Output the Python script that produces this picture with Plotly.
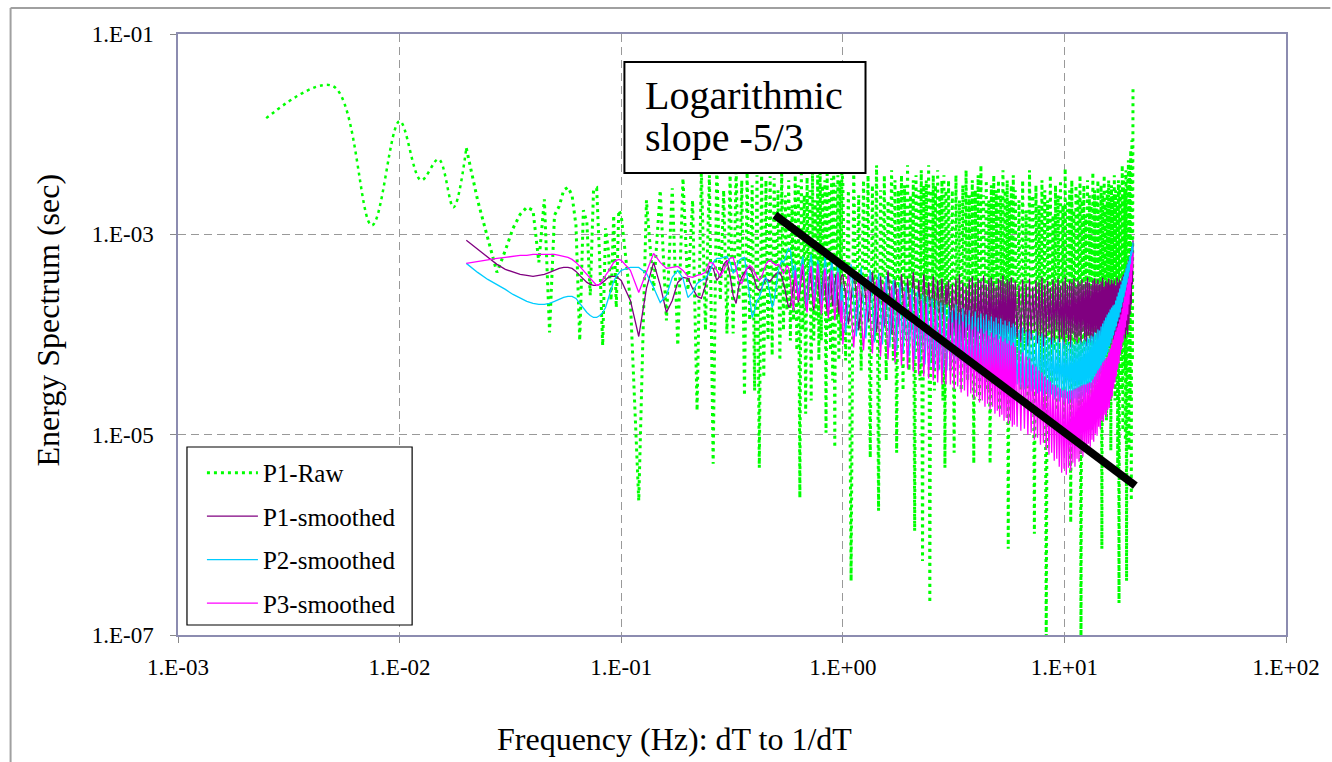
import plotly.graph_objects as go

# ---------------- data ----------------
# energies are stored as log10(E [sec]); frequencies in Hz
raw_low_freq_hz = [0.0025, 0.005, 0.0075, 0.01, 0.0125, 0.015, 0.0175]
raw_low_log10 = [-1.84, -1.52, -2.91, -1.87, -2.46, -2.25, -2.73]

freq_hz = [
    # 0.02 - 0.0975
    0.02, 0.0225, 0.025, 0.0275, 0.03, 0.0325, 0.035, 0.0375, 0.04, 0.0425,
    0.045, 0.0475, 0.05, 0.0525, 0.055, 0.0575, 0.06, 0.0625, 0.065, 0.0675,
    0.07, 0.0725, 0.075, 0.0775, 0.08, 0.0825, 0.085, 0.0875, 0.09, 0.0925,
    0.095, 0.0975,
    # 0.10 - 0.99
    0.10, 0.11, 0.12, 0.13, 0.14, 0.15, 0.16, 0.17, 0.18, 0.19,
    0.20, 0.21, 0.22, 0.23, 0.24, 0.25, 0.26, 0.27, 0.28, 0.29,
    0.30, 0.31, 0.32, 0.33, 0.34, 0.35, 0.36, 0.37, 0.38, 0.39,
    0.40, 0.41, 0.42, 0.43, 0.44, 0.45, 0.46, 0.47, 0.48, 0.49,
    0.50, 0.51, 0.52, 0.53, 0.54, 0.55, 0.56, 0.57, 0.58, 0.59,
    0.60, 0.61, 0.62, 0.63, 0.64, 0.65, 0.66, 0.67, 0.68, 0.69,
    0.70, 0.71, 0.72, 0.73, 0.74, 0.75, 0.76, 0.77, 0.78, 0.79,
    0.80, 0.81, 0.82, 0.83, 0.84, 0.85, 0.86, 0.87, 0.88, 0.89,
    0.90, 0.91, 0.92, 0.93, 0.94, 0.95, 0.96, 0.97, 0.98, 0.99,
    # 1.00 - 2.95
    1.00, 1.03, 1.06, 1.09, 1.12, 1.15, 1.18, 1.21, 1.24, 1.27,
    1.30, 1.33, 1.36, 1.39, 1.42, 1.45, 1.48, 1.51, 1.54, 1.57,
    1.60, 1.63, 1.66, 1.69, 1.72, 1.75, 1.78, 1.81, 1.84, 1.87,
    1.90, 1.93, 1.96, 1.99, 2.02, 2.05, 2.08, 2.11, 2.14, 2.17,
    2.20, 2.23, 2.26, 2.29, 2.32, 2.35, 2.38, 2.41, 2.44, 2.47,
    2.50, 2.53, 2.56, 2.59, 2.62, 2.65, 2.68, 2.71, 2.74, 2.77,
    2.80, 2.83, 2.86, 2.89, 2.92, 2.95,
    # 3.00 - 5.94
    3.00, 3.06, 3.12, 3.18, 3.24, 3.30, 3.36, 3.42, 3.48, 3.54,
    3.60, 3.66, 3.72, 3.78, 3.84, 3.90, 3.96, 4.02, 4.08, 4.14,
    4.20, 4.26, 4.32, 4.38, 4.44, 4.50, 4.56, 4.62, 4.68, 4.74,
    4.80, 4.86, 4.92, 4.98, 5.04, 5.10, 5.16, 5.22, 5.28, 5.34,
    5.40, 5.46, 5.52, 5.58, 5.64, 5.70, 5.76, 5.82, 5.88, 5.94,
    # 6.00 - 20.40
    6.00, 6.12, 6.24, 6.36, 6.48, 6.60, 6.72, 6.84, 6.96, 7.08,
    7.20, 7.32, 7.44, 7.56, 7.68, 7.80, 7.92, 8.04, 8.16, 8.28,
    8.40, 8.52, 8.64, 8.76, 8.88, 9.00, 9.12, 9.24, 9.36, 9.48,
    9.60, 9.72, 9.84, 9.96, 10.08, 10.20, 10.32, 10.44, 10.56, 10.68,
    10.80, 10.92, 11.04, 11.16, 11.28, 11.40, 11.52, 11.64, 11.76, 11.88,
    12.00, 12.12, 12.24, 12.36, 12.48, 12.60, 12.72, 12.84, 12.96, 13.08,
    13.20, 13.32, 13.44, 13.56, 13.68, 13.80, 13.92, 14.04, 14.16, 14.28,
    14.40, 14.52, 14.64, 14.76, 14.88, 15.00, 15.12, 15.24, 15.36, 15.48,
    15.60, 15.72, 15.84, 15.96, 16.08, 16.20, 16.32, 16.44, 16.56, 16.68,
    16.80, 16.92, 17.04, 17.16, 17.28, 17.40, 17.52, 17.64, 17.76, 17.88,
    18.00, 18.12, 18.24, 18.36, 18.48, 18.60, 18.72, 18.84, 18.96, 19.08,
    19.20, 19.32, 19.44, 19.56, 19.68, 19.80, 19.92, 20.04, 20.16, 20.28,
    20.40,
]

p1_raw_log10 = [
    # 0.02 - 0.0975
    -2.14, -2.66, -3.04, -3.38, -3.16, -2.94, -2.80, -2.73, -2.76, -3.28,
    -2.65, -3.98, -2.81, -2.72, -2.56, -2.53, -2.61, -2.91, -4.06, -2.76,
    -2.88, -3.61, -2.56, -2.54, -3.26, -4.11, -2.94, -3.16, -3.66, -2.81,
    -3.73, -2.76,
    # 0.10 - 0.99
    -2.81, -3.66, -5.66, -2.66, -3.56, -2.56, -3.86, -2.54, -4.11, -2.44,
    -3.56, -2.66, -4.76, -2.36, -3.96, -2.41, -5.29, -2.29, -3.66, -2.56,
    -3.99, -2.41, -3.99, -2.34, -3.66, -2.46, -4.61, -2.38, -3.86, -2.51,
    -4.56, -2.41, -5.33, -2.34, -4.43, -2.46, -4.06, -2.42, -4.21, -2.44,
    -3.66, -2.56, -4.26, -2.36, -3.96, -2.61, -3.76, -2.46, -4.06, -2.71,
    -3.86, -2.41, -4.16, -2.51, -5.63, -2.36, -3.96, -2.61, -4.79, -2.43,
    -3.66, -2.56, -4.66, -2.34, -4.06, -2.66, -3.86, -2.41, -4.26, -2.31,
    -4.06, -2.51, -3.66, -2.46, -4.98, -2.36, -3.96, -2.56, -4.16, -2.44,
    -4.46, -2.33, -5.13, -2.51, -3.86, -2.41, -4.26, -2.46, -4.06, -2.38,
    # 1.00 - 2.95
    -2.46, -4.26, -2.56, -6.46, -2.36, -3.96, -2.61, -4.36, -2.46, -3.76,
    -2.41, -5.23, -2.51, -4.06, -2.31, -5.76, -2.56, -3.86, -2.41, -4.46,
    -2.66, -3.96, -2.36, -4.26, -2.46, -5.18, -2.56, -3.86, -2.41, -4.56,
    -2.51, -4.06, -2.31, -4.36, -2.61, -3.96, -2.46, -5.96, -2.41, -4.16,
    -2.56, -4.46, -2.36, -6.26, -2.51, -4.06, -2.46, -3.86, -2.31, -6.68,
    -2.56, -4.26, -2.41, -4.56, -2.51, -3.96, -2.36, -4.36, -2.61, -4.06,
    -2.46, -4.66, -2.41, -5.33, -2.56, -4.16,
    # 3.00 - 5.94
    -2.46, -4.36, -2.56, -5.18, -2.41, -4.16, -2.66, -4.56, -2.51, -4.06,
    -2.36, -4.46, -2.61, -4.26, -2.46, -5.29, -2.56, -4.06, -2.41, -4.66,
    -2.31, -4.36, -2.61, -4.16, -2.46, -4.56, -2.66, -5.29, -2.51, -4.26,
    -2.41, -4.46, -2.56, -4.06, -2.46, -4.76, -2.61, -4.36, -2.36, -4.16,
    -2.56, -4.56, -2.46, -6.14, -2.66, -4.26, -2.51, -4.46, -2.41, -4.06,
    # 6.00 - 20.40
    -2.56, -4.26, -2.66, -4.56, -2.46, -4.16, -2.76, -4.66, -2.36, -4.36,
    -2.61, -5.99, -2.51, -4.06, -2.71, -4.46, -2.46, -4.86, -2.56, -7.05,
    -2.66, -4.26, -2.41, -4.56, -2.81, -4.16, -2.51, -4.76, -2.61, -4.36,
    -2.46, -4.06, -2.71, -4.96, -2.34, -4.46, -2.66, -4.16, -2.56, -5.88,
    -2.46, -4.36, -2.76, -4.56, -2.51, -4.26, -2.61, -4.86, -2.41, -7.05,
    -2.66, -4.16, -2.51, -4.46, -2.81, -4.06, -2.46, -4.66, -2.61, -4.36,
    -2.71, -4.96, -2.38, -4.26, -2.56, -4.56, -2.66, -4.16, -2.46, -4.76,
    -2.76, -4.36, -2.51, -6.14, -2.61, -4.46, -2.41, -4.06, -2.71, -4.86,
    -2.56, -4.26, -2.46, -4.56, -2.66, -5.16, -2.51, -4.36, -2.61, -4.16,
    -2.41, -4.66, -2.56, -4.46, -2.71, -5.36, -2.46, -6.68, -2.51, -4.26,
    -2.61, -4.56, -2.31, -4.96, -2.41, -4.36, -2.56, -5.06, -2.36, -6.46,
    -2.46, -4.46, -2.26, -5.16, -2.36, -4.66, -2.16, -5.66, -2.06, -4.26,
    -1.53,
]

p1_smoothed_log10 = [
    # 0.02 - 0.0975
    -3.06, -3.15, -3.23, -3.30, -3.35, -3.38, -3.40, -3.41, -3.42, -3.41,
    -3.40, -3.38, -3.36, -3.34, -3.33, -3.33, -3.34, -3.37, -3.41, -3.45,
    -3.48, -3.50, -3.51, -3.51, -3.50, -3.48, -3.45, -3.43, -3.42, -3.42,
    -3.42, -3.44,
    # 0.10 - 0.99
    -3.46, -3.66, -4.02, -3.54, -3.28, -3.51, -3.78, -3.66, -3.48, -3.43,
    -3.44, -3.54, -3.62, -3.64, -3.51, -3.32, -3.34, -3.46, -3.41, -3.30,
    -3.26, -3.41, -3.61, -3.69, -3.51, -3.43, -3.38, -3.34, -3.33, -3.38,
    -3.46, -3.54, -3.56, -3.54, -3.48, -3.44, -3.46, -3.47, -3.44, -3.41,
    -3.39, -3.38, -3.39, -3.42, -3.48, -3.56, -3.66, -3.73, -3.71, -3.61,
    -3.48, -3.40, -3.52, -3.68, -3.58, -3.42, -3.36, -3.50, -3.72, -3.64,
    -3.48, -3.38, -3.46, -3.62, -3.76, -3.60, -3.44, -3.40, -3.54, -3.70,
    -3.62, -3.46, -3.36, -3.48, -3.66, -3.78, -3.60, -3.42, -3.38, -3.56,
    -3.72, -3.64, -3.46, -3.40, -3.52, -3.70, -3.80, -3.58, -3.44, -3.41,
    # 1.00 - 2.95
    -3.40, -3.62, -3.90, -3.66, -3.36, -3.60, -3.96, -3.70, -3.44, -3.64,
    -3.88, -3.62, -3.38, -3.58, -3.98, -3.72, -3.42, -3.66, -3.92, -3.64,
    -3.36, -3.62, -4.00, -3.70, -3.46, -3.60, -3.90, -3.68, -3.40, -3.64,
    -3.96, -3.72, -3.44, -3.62, -3.88, -3.66, -3.38, -3.60, -3.98, -3.74,
    -3.46, -3.66, -3.92, -3.64, -3.40, -3.62, -4.00, -3.70, -3.48, -3.64,
    -3.90, -3.68, -3.42, -3.62, -3.96, -3.72, -3.46, -3.66, -3.94, -3.68,
    -3.44, -3.64, -4.02, -3.74, -3.50, -3.70,
    # 3.00 - 5.94
    -3.46, -4.01, -3.50, -3.98, -3.44, -4.12, -3.40, -4.08, -3.48, -4.04,
    -3.52, -3.96, -3.45, -4.10, -3.42, -4.03, -3.49, -4.14, -3.44, -3.99,
    -3.47, -4.07, -3.41, -4.02, -3.50, -4.11, -3.45, -3.97, -3.43, -4.09,
    -3.48, -4.05, -3.53, -4.13, -3.44, -4.00, -3.46, -4.08, -3.41, -4.04,
    -3.49, -4.12, -3.45, -3.98, -3.47, -4.10, -3.43, -4.06, -3.50, -4.02,
    # 6.00 - 20.40
    -3.47, -4.03, -3.51, -4.08, -3.45, -3.99, -3.49, -4.11, -3.44, -4.05,
    -3.52, -3.97, -3.46, -4.09, -3.48, -4.02, -3.43, -4.12, -3.50, -4.04,
    -3.46, -3.98, -3.53, -4.10, -3.45, -4.06, -3.49, -3.96, -3.44, -4.08,
    -3.51, -4.03, -3.47, -4.11, -3.43, -4.00, -3.50, -4.07, -3.46, -4.13,
    -3.48, -3.99, -3.44, -4.05, -3.52, -4.09, -3.46, -4.02, -3.49, -4.10,
    -3.45, -3.97, -3.50, -4.06, -3.47, -4.12, -3.43, -4.01, -3.48, -4.08,
    -3.51, -4.04, -3.46, -4.10, -3.44, -3.98, -3.49, -4.07, -3.45, -4.11,
    -3.50, -4.02, -3.47, -4.09, -3.43, -4.05, -3.52, -3.99, -3.46, -4.12,
    -3.48, -4.06, -3.44, -4.03, -3.50, -4.10, -3.45, -3.97, -3.49, -4.08,
    -3.46, -4.04, -3.51, -4.11, -3.43, -4.01, -3.48, -4.07, -3.45, -4.09,
    -3.47, -4.03, -3.42, -4.06, -3.40, -3.98, -3.38, -4.04, -3.34, -3.96,
    -3.30, -4.00, -3.26, -3.90, -3.22, -3.80, -3.16, -3.70, -3.12, -3.50,
    -3.06,
]

p2_smoothed_log10 = [
    # 0.02 - 0.0975
    -3.29, -3.38, -3.45, -3.50, -3.55, -3.60, -3.64, -3.67, -3.69, -3.70,
    -3.70, -3.69, -3.67, -3.65, -3.63, -3.62, -3.62, -3.64, -3.69, -3.74,
    -3.78, -3.81, -3.83, -3.83, -3.81, -3.78, -3.73, -3.64, -3.54, -3.47,
    -3.42, -3.39,
    # 0.10 - 0.99
    -3.36, -3.33, -3.33, -3.39, -3.53, -3.68, -3.61, -3.43, -3.36, -3.44,
    -3.63, -3.58, -3.49, -3.46, -3.44, -3.38, -3.28, -3.24, -3.24, -3.23,
    -3.22, -3.28, -3.39, -3.34, -3.26, -3.24, -3.23, -3.41, -3.66, -3.83,
    -3.76, -3.66, -3.63, -3.56, -3.46, -3.43, -3.49, -3.61, -3.73, -3.66,
    -3.51, -3.38, -3.31, -3.26, -3.28, -3.24, -3.18, -3.14, -3.16, -3.28,
    -3.44, -3.30, -3.44, -3.60, -3.50, -3.30, -3.22, -3.40, -3.62, -3.70,
    -3.50, -3.28, -3.20, -3.36, -3.58, -3.66, -3.46, -3.26, -3.30, -3.50,
    -3.70, -3.60, -3.38, -3.22, -3.30, -3.52, -3.74, -3.62, -3.40, -3.24,
    -3.34, -3.56, -3.72, -3.58, -3.36, -3.26, -3.40, -3.64, -3.76, -3.50,
    # 1.00 - 2.95
    -3.62, -3.98, -3.64, -3.30, -3.66, -4.02, -3.68, -3.33, -3.68, -4.04,
    -3.70, -3.36, -3.72, -4.08, -3.74, -3.39, -3.75, -4.10, -3.77, -3.42,
    -3.78, -4.13, -3.80, -3.45, -3.80, -4.16, -3.83, -3.48, -3.84, -4.19,
    -3.86, -3.51, -3.87, -4.22, -3.89, -3.54, -3.90, -4.25, -3.92, -3.57,
    -3.93, -4.28, -3.95, -3.60, -3.96, -4.30, -3.98, -3.62, -3.99, -4.32,
    -4.01, -3.64, -4.02, -4.34, -4.04, -3.66, -4.04, -4.36, -4.06, -3.68,
    -4.06, -4.38, -4.08, -3.70, -4.04, -4.36,
    # 3.00 - 5.94
    -3.72, -4.36, -3.76, -4.40, -3.70, -4.34, -3.78, -4.42, -3.74, -4.38,
    -3.80, -4.44, -3.76, -4.39, -3.82, -4.45, -3.77, -4.41, -3.83, -4.47,
    -3.79, -4.42, -3.85, -4.48, -3.80, -4.43, -3.86, -4.49, -3.82, -4.45,
    -3.87, -4.50, -3.83, -4.46, -3.89, -4.52, -3.84, -4.47, -3.90, -4.53,
    -3.86, -4.48, -3.91, -4.54, -3.87, -4.50, -3.93, -4.56, -3.89, -4.52,
    # 6.00 - 20.40
    -3.92, -4.50, -3.95, -4.53, -3.93, -4.55, -3.97, -4.52, -3.96, -4.57,
    -3.99, -4.55, -3.97, -4.59, -4.01, -4.57, -3.99, -4.61, -4.03, -4.58,
    -4.02, -4.63, -4.05, -4.60, -4.03, -4.65, -4.07, -4.62, -4.04, -4.67,
    -4.08, -4.63, -4.05, -4.68, -4.09, -4.64, -4.06, -4.69, -4.09, -4.65,
    -4.06, -4.69, -4.10, -4.64, -4.07, -4.68, -4.09, -4.63, -4.06, -4.67,
    -4.08, -4.62, -4.05, -4.65, -4.07, -4.58, -4.03, -4.60, -4.04, -4.54,
    -4.01, -4.55, -4.02, -4.49, -3.98, -4.50, -3.99, -4.44, -3.95, -4.45,
    -3.96, -4.38, -3.92, -4.36, -3.89, -4.30, -3.86, -4.27, -3.83, -4.21,
    -3.80, -4.18, -3.78, -4.12, -3.75, -4.09, -3.73, -4.04, -3.71, -4.01,
    -3.70, -3.96, -3.66, -3.92, -3.62, -3.87, -3.58, -3.83, -3.54, -3.78,
    -3.50, -3.73, -3.46, -3.68, -3.42, -3.63, -3.38, -3.58, -3.34, -3.53,
    -3.30, -3.48, -3.27, -3.42, -3.22, -3.36, -3.17, -3.28, -3.12, -3.20,
    -3.08,
]

p3_smoothed_log10 = [
    # 0.02 - 0.0975
    -3.29, -3.27, -3.25, -3.24, -3.23, -3.22, -3.21, -3.21, -3.20, -3.20,
    -3.20, -3.20, -3.20, -3.21, -3.22, -3.23, -3.25, -3.28, -3.32, -3.36,
    -3.40, -3.44, -3.48, -3.51, -3.50, -3.46, -3.41, -3.37, -3.32, -3.28,
    -3.26, -3.25,
    # 0.10 - 0.99
    -3.26, -3.36, -3.58, -3.38, -3.19, -3.28, -3.34, -3.33, -3.32, -3.36,
    -3.42, -3.43, -3.41, -3.40, -3.38, -3.28, -3.29, -3.36, -3.42, -3.36,
    -3.28, -3.24, -3.23, -3.34, -3.46, -3.49, -3.42, -3.34, -3.31, -3.33,
    -3.38, -3.43, -3.46, -3.43, -3.36, -3.30, -3.27, -3.26, -3.28, -3.30,
    -3.31, -3.30, -3.32, -3.36, -3.39, -3.36, -3.31, -3.34, -3.46, -3.66,
    -3.76, -3.36, -3.52, -3.66, -3.54, -3.36, -3.30, -3.46, -3.70, -3.78,
    -3.56, -3.38, -3.32, -3.50, -3.72, -3.64, -3.44, -3.30, -3.40, -3.62,
    -3.80, -3.68, -3.46, -3.34, -3.42, -3.64, -3.84, -3.70, -3.48, -3.36,
    -3.46, -3.66, -3.86, -3.72, -3.50, -3.38, -3.48, -3.70, -3.88, -3.66,
    # 1.00 - 2.95
    -4.10, -3.72, -3.36, -3.74, -4.13, -3.75, -3.39, -3.77, -4.16, -3.78,
    -3.42, -3.80, -4.19, -3.81, -3.45, -3.83, -4.22, -3.84, -3.48, -3.86,
    -4.25, -3.87, -3.51, -3.89, -4.28, -3.90, -3.54, -3.92, -4.31, -3.93,
    -3.57, -3.95, -4.34, -3.96, -3.60, -3.98, -4.37, -3.99, -3.63, -4.01,
    -4.40, -4.02, -3.66, -4.04, -4.42, -4.05, -3.69, -4.07, -4.44, -4.08,
    -3.72, -4.10, -4.46, -4.11, -3.75, -4.13, -4.48, -4.14, -3.78, -4.16,
    -4.50, -4.16, -3.80, -4.18, -4.50, -4.20,
    # 3.00 - 5.94
    -3.84, -4.50, -3.88, -4.55, -3.85, -4.52, -3.90, -4.58, -3.87, -4.56,
    -3.93, -4.62, -3.90, -4.59, -3.95, -4.65, -3.92, -4.62, -3.97, -4.68,
    -3.94, -4.66, -3.99, -4.72, -3.96, -4.69, -4.01, -4.75, -3.98, -4.72,
    -4.03, -4.79, -4.00, -4.76, -4.05, -4.82, -4.02, -4.80, -4.07, -4.86,
    -4.04, -4.83, -4.09, -4.89, -4.06, -4.86, -4.11, -4.92, -4.08, -4.90,
    # 6.00 - 20.40
    -4.12, -4.92, -4.16, -4.96, -4.18, -4.94, -4.22, -5.00, -4.24, -4.98,
    -4.30, -5.05, -4.32, -5.03, -4.36, -5.10, -4.38, -5.08, -4.42, -5.15,
    -4.45, -5.20, -4.47, -5.18, -4.50, -5.26, -4.51, -5.24, -4.53, -5.32,
    -4.54, -5.38, -4.56, -5.34, -4.55, -5.40, -4.57, -5.33, -4.56, -5.36,
    -4.56, -5.28, -4.55, -5.32, -4.54, -5.24, -4.53, -5.27, -4.52, -5.19,
    -4.51, -5.22, -4.50, -5.14, -4.50, -5.17, -4.49, -5.09, -4.48, -5.12,
    -4.48, -5.05, -4.45, -5.07, -4.42, -4.99, -4.39, -5.01, -4.36, -4.92,
    -4.34, -4.94, -4.31, -4.86, -4.28, -4.87, -4.26, -4.80, -4.24, -4.82,
    -4.22, -4.75, -4.18, -4.73, -4.14, -4.65, -4.10, -4.62, -4.05, -4.54,
    -4.01, -4.48, -3.97, -4.42, -3.93, -4.35, -3.89, -4.29, -3.85, -4.20,
    -3.80, -4.15, -3.74, -4.08, -3.68, -4.00, -3.62, -3.93, -3.56, -3.86,
    -3.50, -3.80, -3.44, -3.70, -3.38, -3.60, -3.30, -3.48, -3.22, -3.36,
    -3.18,
]

slope_freq_hz = [0.494, 20.9]
slope_energy = [1.56e-3, 3.1e-6]

series_names = ["P1-Raw", "P1-smoothed", "P2-smoothed", "P3-smoothed"]
series_colors = ["#00FF00", "#800080", "#00CCFF", "#FF00FF"]

x_tick_vals = [1e-3, 1e-2, 1e-1, 1e0, 1e1, 1e2]
x_tick_labels = ["1.E-03", "1.E-02", "1.E-01", "1.E+00", "1.E+01", "1.E+02"]
y_tick_vals = [1e-7, 1e-5, 1e-3, 1e-1]
y_tick_labels = ["1.E-07", "1.E-05", "1.E-03", "1.E-01"]

x_title = "Frequency (Hz): dT to 1/dT"
y_title = "Energy Spectrum (sec)"
note_lines = ["Logarithmic", "slope -5/3"]

for arr in (p1_raw_log10, p1_smoothed_log10, p2_smoothed_log10, p3_smoothed_log10):
    assert len(arr) == len(freq_hz), (len(arr), len(freq_hz))


def energy(log_values):
    return [10 ** v for v in log_values]


FONT = "Liberation Serif"
fig = go.Figure()

# raw spectrum, low-frequency part (smooth line) and the rest
fig.add_trace(go.Scatter(
    x=raw_low_freq_hz + freq_hz[:1], y=energy(raw_low_log10 + p1_raw_log10[:1]),
    mode="lines", legendgroup="raw", showlegend=False, hoverinfo="skip",
    line=dict(color=series_colors[0], width=2.5, dash="3px,4px", shape="spline", smoothing=1.0),
))
fig.add_trace(go.Scatter(
    x=freq_hz, y=energy(p1_raw_log10), mode="lines", name=series_names[0],
    legendgroup="raw",
    line=dict(color=series_colors[0], width=3, dash="3px,4px"),
))
for name, color, vals, grp in [
    (series_names[1], series_colors[1], p1_smoothed_log10, "s1"),
    (series_names[2], series_colors[2], p2_smoothed_log10, "s2"),
    (series_names[3], series_colors[3], p3_smoothed_log10, "s3"),
]:
    fig.add_trace(go.Scatter(
        x=freq_hz, y=energy(vals), mode="lines", name=name, legendgroup=grp,
        line=dict(color=color, width=1.3),
    ))

# -5/3 reference slope
fig.add_trace(go.Scatter(
    x=slope_freq_hz, y=slope_energy, mode="lines", showlegend=False,
    line=dict(color="black", width=8),
))

axis_common = dict(
    type="log", showgrid=True, gridcolor="#999999", griddash="8px,5px", gridwidth=1,
    zeroline=False, showline=True, linecolor="#8c8cb0", linewidth=1.5, mirror=True,
    ticks="outside", ticklen=6, tickcolor="#888888",
    tickfont=dict(family=FONT, size=23, color="black"),
)

fig.update_layout(
    width=1332, height=762,
    margin=dict(l=178, r=42, t=34, b=127),
    paper_bgcolor="white", plot_bgcolor="white",
    font=dict(family=FONT, color="black"),
    xaxis=dict(axis_common, range=[-3, 2], tickvals=x_tick_vals, ticktext=x_tick_labels,
               ticklabelstandoff=5),
    yaxis=dict(axis_common, range=[-7, -1], tickvals=y_tick_vals, ticktext=y_tick_labels,
               ticklabelstandoff=12),
    legend=dict(
        x=0.0216, y=0.308, xanchor="left", yanchor="top",
        bgcolor="rgba(0,0,0,0)", borderwidth=0,
        font=dict(family=FONT, size=25, color="black"),
        itemwidth=51, tracegroupgap=8,
    ),
    showlegend=True,
)

shapes = [
    # legend frame
    dict(type="rect", xref="paper", yref="paper", x0=0.0081, x1=0.2113, y0=0.0166, y1=0.3128,
         line=dict(color="black", width=1.2), fillcolor="white", layer="above"),
    # annotation box
    dict(type="rect", xref="paper", yref="paper", x0=0.4029, x1=0.6205, y0=0.7687, y1=0.9534,
         line=dict(color="black", width=2), fillcolor="white", layer="above"),
    # outer chart frame (top and left edges visible)
    dict(type="line", xref="paper", yref="paper", x0=-0.1511, x1=1.04, y0=1.0433, y1=1.0433,
         line=dict(color="#a0a0a0", width=2)),
    dict(type="line", xref="paper", yref="paper", x0=-0.1511, x1=-0.1511, y0=1.0433, y1=-0.22,
         line=dict(color="#a0a0a0", width=2)),
]
fig.update_layout(shapes=shapes)

# axis titles (placed where the reference has them)
fig.add_annotation(x=0.4478, y=-0.173, xref="paper", yref="paper", xanchor="center", yanchor="middle",
                   text=x_title, showarrow=False, font=dict(family=FONT, size=32, color="black"))
fig.add_annotation(x=-0.1169, y=0.524, xref="paper", yref="paper", xanchor="center", yanchor="middle",
                   text=y_title, textangle=-90, showarrow=False,
                   font=dict(family=FONT, size=32, color="black"))

# slope note
fig.add_annotation(x=0.42, y=0.8985, xref="paper", yref="paper", xanchor="left", yanchor="middle",
                   text=note_lines[0], showarrow=False, font=dict(family=FONT, size=40, color="black"))
fig.add_annotation(x=0.42, y=0.8286, xref="paper", yref="paper", xanchor="left", yanchor="middle",
                   text=note_lines[1], showarrow=False, font=dict(family=FONT, size=40, color="black"))

fig.write_html("out.html")
